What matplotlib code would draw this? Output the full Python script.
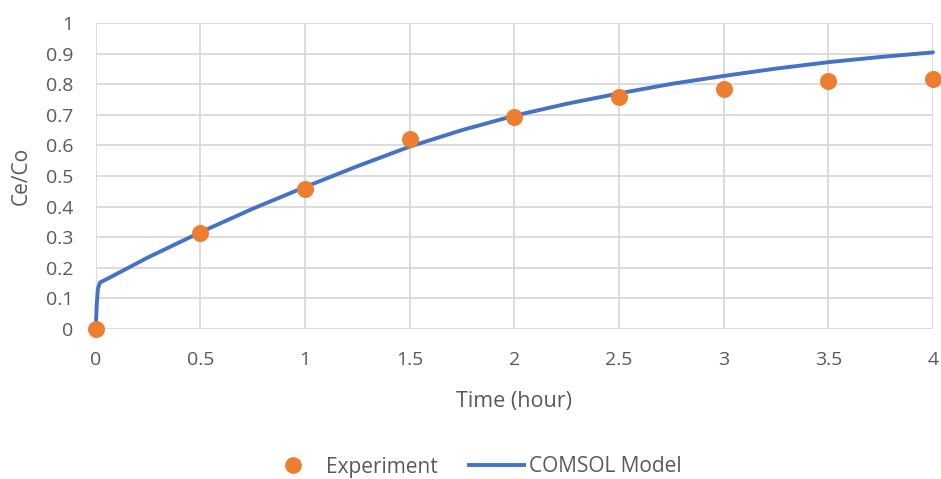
import matplotlib
matplotlib.use("Agg")
import matplotlib.pyplot as plt
from matplotlib.lines import Line2D

plt.rcParams['font.family'] = ['Open Sans', 'DejaVu Sans']

# Experimental breakthrough data
exp_time = [0, 0.5, 1, 1.5, 2, 2.5, 3, 3.5, 4]
exp_ratio = [0.0, 0.313, 0.458, 0.621, 0.694, 0.757, 0.783, 0.810, 0.816]

# COMSOL model curve
model_time = [0, 0.005, 0.01, 0.02, 0.05, 0.1, 0.25, 0.5, 0.75, 1.0, 1.25, 1.5,
              1.75, 2.0, 2.25, 2.5, 2.75, 3.0, 3.25, 3.5, 3.75, 4.0]
model_ratio = [0.0, 0.08, 0.13, 0.152, 0.162, 0.180, 0.234, 0.316, 0.393, 0.464,
               0.532, 0.596, 0.650, 0.697, 0.736, 0.770, 0.801, 0.827, 0.851,
               0.872, 0.889, 0.904]

x_ticks = [0, 0.5, 1, 1.5, 2, 2.5, 3, 3.5, 4]
x_labels = ['0', '0.5', '1', '1.5', '2', '2.5', '3', '3.5', '4']
y_ticks = [0, 0.1, 0.2, 0.3, 0.4, 0.5, 0.6, 0.7, 0.8, 0.9, 1]
y_labels = ['0', '0.1', '0.2', '0.3', '0.4', '0.5', '0.6', '0.7', '0.8', '0.9', '1']

text_color = '#595959'
grid_color = '#d9d9d9'
orange = '#ED7D31'
blue = '#4472C4'

fig = plt.figure(figsize=(9.41, 4.79), dpi=100)
ax = fig.add_axes([95.7 / 941, 1 - 329 / 479, (933 - 95.7) / 941, (329 - 23) / 479])

ax.plot(model_time, model_ratio, color=blue, lw=2.8, solid_capstyle='round',
        zorder=3, clip_on=False)
ax.scatter(exp_time, exp_ratio, s=150, color=orange, zorder=4, clip_on=False,
           linewidths=0)

ax.set_xlim(0, 4)
ax.set_ylim(0, 1)
ax.set_xticks(x_ticks)
ax.set_xticklabels(x_labels)
ax.set_yticks(y_ticks)
ax.set_yticklabels(y_labels)

ax.grid(True, color=grid_color, lw=1.3)
ax.set_axisbelow(True)
for s in ax.spines.values():
    s.set_visible(False)
ax.tick_params(length=0, colors=text_color, labelsize=14)
ax.tick_params(axis='x', pad=16)
ax.tick_params(axis='y', pad=16)

ax.set_xlabel('Time (hour)', color=text_color, fontsize=15.5, labelpad=16)
ax.set_ylabel('Ce/Co', color=text_color, fontsize=15, labelpad=10)

handles = [
    Line2D([], [], marker='o', color=orange, ls='none', markersize=12,
           markeredgewidth=0),
    Line2D([], [], color=blue, lw=2.8),
]
fig.legend(handles, ['Experiment', 'COMSOL Model'], loc='center',
           bbox_to_anchor=(474 / 941, 1 - 467 / 479), ncol=2, frameon=False,
           fontsize=15, labelcolor=text_color, handlelength=2.64,
           columnspacing=1.5, handletextpad=0.25)

fig.savefig('out.png', dpi=100)
